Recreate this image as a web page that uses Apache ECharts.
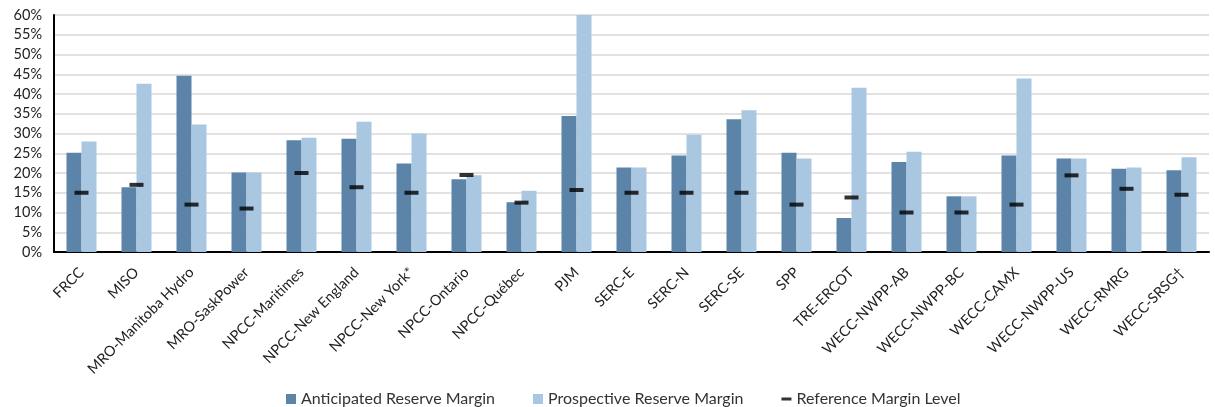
<!DOCTYPE html>
<html>
<head>
<meta charset="utf-8">
<script src="https://cdn.jsdelivr.net/npm/echarts@6/dist/echarts.min.js"></script>
<style>
  html, body { margin: 0; padding: 0; background: #fff; }
  #chart { width: 1215px; height: 407px; }
</style>
</head>
<body>
<div id="chart"></div>
<script>
// regions on the x axis
let regions = ["FRCC", "MISO", "MRO-Manitoba Hydro", "MRO-SaskPower", "NPCC-Maritimes",
  "NPCC-New England", "NPCC-New York*", "NPCC-Ontario", "NPCC-Québec", "PJM",
  "SERC-E", "SERC-N", "SERC-SE", "SPP", "TRE-ERCOT", "WECC-NWPP-AB", "WECC-NWPP-BC",
  "WECC-CAMX", "WECC-NWPP-US", "WECC-RMRG", "WECC-SRSG†"];

// values in percent
let anticipated = [25.1, 16.4, 44.6, 20.1, 28.3, 28.7, 22.4, 18.4, 12.6, 34.4,
  21.4, 24.4, 33.6, 25.1, 8.6, 22.8, 14.1, 24.4, 23.7, 21.1, 20.7];
let prospective = [28.0, 42.6, 32.3, 20.1, 28.9, 33.0, 30.0, 19.4, 15.5, 60.0,
  21.4, 29.7, 35.9, 23.7, 41.6, 25.4, 14.1, 43.9, 23.7, 21.4, 24.0];
let reference = [15, 17, 12, 11, 20, 16.4, 15, 19.5, 12.5, 15.7,
  15, 15, 15, 12, 13.8, 10, 10, 12, 19.4, 16, 14.5];

let yTicks = [0, 5, 10, 15, 20, 25, 30, 35, 40, 45, 50, 55, 60];

let dom = document.getElementById("chart");
let myChart = echarts.init(dom, null, { renderer: "canvas" });

let font = "Lato";

let option = {
  animation: false,
  textStyle: { fontFamily: font },
  grid: { left: 54, right: 6, top: 15, bottom: 155 },
  legend: {
    top: 386,
    left: 281,
    itemGap: 38,
    itemWidth: 10,
    itemHeight: 10,
    textStyle: { fontFamily: font, fontSize: 16, color: "#333" },
    data: [
      { name: "Anticipated Reserve Margin", icon: "rect" },
      { name: "Prospective Reserve Margin", icon: "rect" },
      { name: "Reference Margin Level", icon: "path://M0,0 h10 v3 h-10 z", itemStyle: { color: "#000" } }
    ]
  },
  xAxis: {
    type: "category",
    data: regions,
    axisLine: { lineStyle: { color: "#000", width: 2 } },
    axisTick: { show: false },
    axisLabel: {
      rotate: 45,
      interval: 0,
      fontFamily: font,
      fontSize: 14.5,
      color: "#222",
      margin: 18
    }
  },
  yAxis: {
    type: "value",
    min: yTicks[0],
    max: yTicks[yTicks.length - 1],
    interval: 5,
    axisLine: { show: true, lineStyle: { color: "#000", width: 2 } },
    axisTick: { show: false },
    splitLine: { lineStyle: { color: "#d9d9d9", width: 1.5 } },
    axisLabel: {
      formatter: "{value}%",
      fontFamily: font,
      fontSize: 14.5,
      color: "#222",
      margin: 12
    }
  },
  series: [
    {
      name: "Anticipated Reserve Margin",
      type: "bar",
      barWidth: 15,
      barGap: "0%",
      itemStyle: { color: "#5b84a8" },
      data: anticipated
    },
    {
      name: "Prospective Reserve Margin",
      type: "bar",
      barWidth: 15,
      itemStyle: { color: "#a9c7e1" },
      data: prospective
    },
    {
      name: "Reference Margin Level",
      type: "scatter",
      symbol: "rect",
      symbolSize: [14, 4],
      itemStyle: { color: "#000" },
      z: 5,
      data: reference
    }
  ]
};

myChart.setOption(option);
window.addEventListener("resize", myChart.resize);
</script>
</body>
</html>
